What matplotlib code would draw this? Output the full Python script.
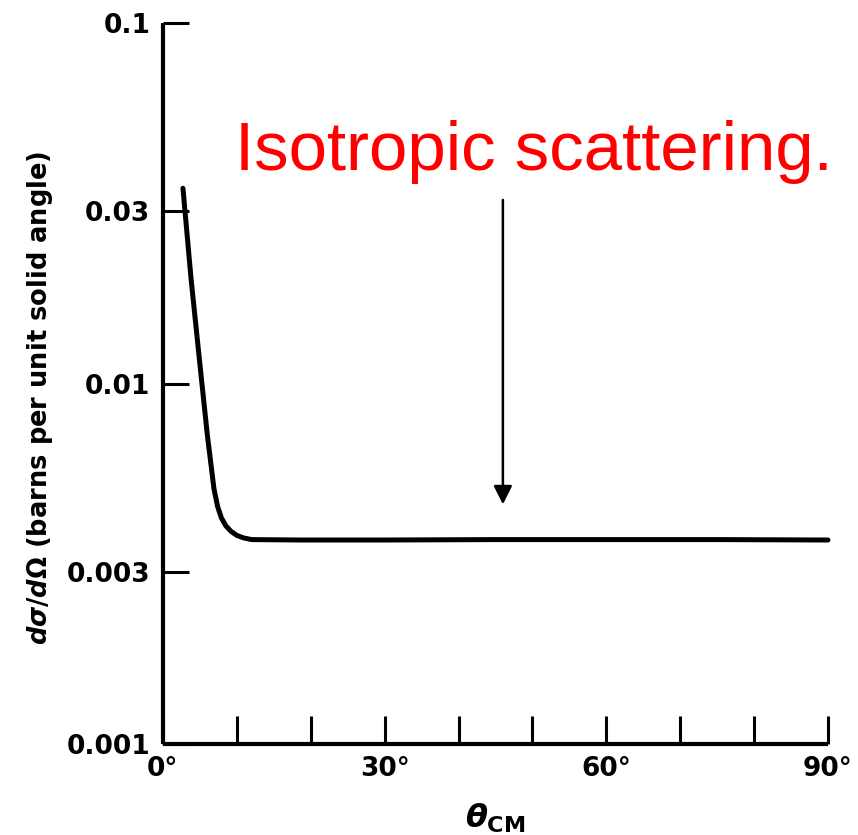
import matplotlib
matplotlib.use('Agg')
import matplotlib.pyplot as plt
from matplotlib.ticker import FixedLocator, NullLocator

# cross section vs CM angle
theta_cm = [2.7, 3.8, 4.9, 6.0, 6.9, 7.4, 7.9, 8.5, 9.2, 10.0, 10.9, 12.0, 18.6,
            30, 45, 60, 75, 90]
dsigma = [0.0348, 0.0195, 0.0118, 0.0072, 0.0051, 0.00455, 0.00424, 0.00403,
          0.00389, 0.00379, 0.00373, 0.00369, 0.00368, 0.00368, 0.00369, 0.00369,
          0.00369, 0.00368]

y_ticks = [0.1, 0.03, 0.01, 0.003, 0.001]
y_ticklabels = ['0.1', '0.03', '0.01', '0.003', '0.001']
x_ticks = [0, 30, 60, 90]
x_ticklabels = ['0°', '30°', '60°', '90°']
x_minor = [10, 20, 40, 50, 70, 80]

arrow_x = 46
arrow_from = 0.0323
arrow_to = 0.00462
note = 'Isotropic scattering.'

plt.rcParams['mathtext.fontset'] = 'custom'
plt.rcParams['mathtext.it'] = 'DejaVu Sans:bold:italic'
plt.rcParams['mathtext.rm'] = 'DejaVu Sans:bold'
plt.rcParams['mathtext.bf'] = 'DejaVu Sans:bold'

fig = plt.figure(figsize=(8.58, 8.35), dpi=100)
ax = fig.add_axes([163 / 858, (835 - 744) / 835, 665 / 858, 721 / 835])

ax.plot(theta_cm, dsigma, color='black', lw=3.6, solid_capstyle='round',
        solid_joinstyle='round', clip_on=False)

ax.set_yscale('log')
ax.set_ylim(0.001, 0.1)
ax.set_xlim(0, 90)

for s in ['top', 'right']:
    ax.spines[s].set_visible(False)
for s in ['left', 'bottom']:
    ax.spines[s].set_linewidth(3)
    ax.spines[s].set_capstyle('butt')

ax.yaxis.set_major_locator(FixedLocator(y_ticks))
ax.yaxis.set_minor_locator(NullLocator())
ax.set_yticklabels(y_ticklabels)
ax.xaxis.set_major_locator(FixedLocator(x_ticks))
ax.xaxis.set_minor_locator(FixedLocator(x_minor))
ax.set_xticklabels(x_ticklabels)

ax.tick_params(axis='y', which='major', direction='in', length=19, width=2.2, pad=9,
               labelsize=19)
ax.tick_params(axis='x', which='both', direction='in', length=20, width=2.2, pad=9,
               labelsize=19)
for lab in ax.get_xticklabels() + ax.get_yticklabels():
    lab.set_fontweight('bold')

ax.set_ylabel(r'$d\sigma/d\Omega$ (barns per unit solid angle)', fontsize=18.5,
              fontweight='bold')
ax.yaxis.set_label_coords(-0.163, 0.48)
ax.set_xlabel(r'$\theta_{\mathrm{CM}}$', fontsize=23)
ax.xaxis.set_label_coords(0.5, -0.08)

ax.annotate('', xy=(arrow_x, arrow_to), xytext=(arrow_x, arrow_from),
            arrowprops=dict(arrowstyle='-|>', color='black', lw=1.8, mutation_scale=28,
                            shrinkA=0, shrinkB=0))

fig.text(235 / 858, (835 - 170) / 835, note, color='red', fontsize=49.7,
         family='Liberation Sans', va='baseline', ha='left')

fig.savefig('out.png', dpi=100)
